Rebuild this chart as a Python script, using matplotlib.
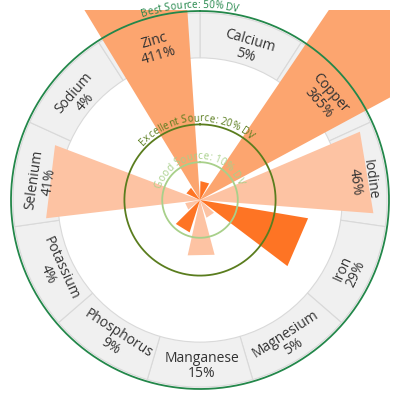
import numpy as np
import matplotlib
matplotlib.use("Agg")
import matplotlib.pyplot as plt
import matplotlib.transforms as mtransforms
from matplotlib.patches import Rectangle
from matplotlib.font_manager import FontProperties

plt.rcParams['font.family'] = ['Open Sans', 'DejaVu Sans']

# % daily value per nutrient
nutrients = ['Calcium', 'Copper', 'Iodine', 'Iron', 'Magnesium', 'Manganese',
             'Phosphorus', 'Potassium', 'Selenium', 'Sodium', 'Zinc']
dv = [5, 365, 46, 29, 5, 15, 9, 4, 41, 4, 411]
bar_colors = ['#fe7424', '#fca56f', '#fdc3a3', '#fe7424', '#fdc3a3', '#fdc3a3',
              '#fe7424', '#fdc3a3', '#fdc3a3', '#fe7424', '#fca56f']

# reference rings
ring_values = [10, 20, 50]
ring_labels = ['Good Source: 10% DV', 'Excellent Source: 20% DV', 'Best Source: 50% DV']
ring_colors = ['#a8d08a', '#5a7d1e', '#23874a']

fig = plt.figure(figsize=(4, 3.96), dpi=100)
ax = fig.add_axes([11 / 400, 7 / 396, 378 / 400, 378 / 396], projection='polar')
ax.set_theta_zero_location('N')
ax.set_theta_direction(-1)
ax.set_ylim(0, 50)
ax.axis('off')

n = len(nutrients)
step = 2 * np.pi / n
centers = (np.arange(n) + 0.5) * step

# grey label band
ax.bar(centers, 49.5 - 37.6, bottom=37.6, width=step, color='#f0f0f0',
       edgecolor='#d9d9d9', linewidth=0.8, zorder=1)

# bars as straight-ended wedges, clipped to the plot rectangle
clip = Rectangle((10 / 400, 6 / 396), 380 / 400, 380 / 396, transform=fig.transFigure)
half = np.radians(27.5) / 2
shift = np.radians(-1.2)
for c, v, col in zip(centers, dv, bar_colors):
    th = [c + shift, c + shift - half, c + shift + half]
    for p in ax.fill(th, [0, v, v], color=col, linewidth=0, zorder=2):
        p.set_clip_box(None)
        p.set_clip_path(clip)

# reference circles
circ = np.linspace(0, 2 * np.pi, 500)
for rv, col in zip(ring_values, ring_colors):
    ax.plot(circ, np.full_like(circ, rv), color=col, lw=1.3, zorder=3, clip_on=False)

# curved ring captions
renderer = fig.canvas.get_renderer()
px_per_unit = ax.bbox.width / 2 / 50


def curved_text(s, r, center_deg, size, color):
    fp = FontProperties(family=['Open Sans', 'DejaVu Sans'], size=size)
    base = renderer.get_text_width_height_descent('xx', fp, ismath=False)[0]
    widths = [renderer.get_text_width_height_descent('x' + ch + 'x', fp, ismath=False)[0] - base
              for ch in s]
    r_px = r * px_per_unit
    start = np.radians(center_deg) - sum(widths) / 2 / r_px
    pos = 0
    for ch, w in zip(s, widths):
        a = start + (pos + w / 2) / r_px
        pos += w
        ax.text(a, r, ch, rotation=-np.degrees(a), rotation_mode='anchor',
                ha='center', va='baseline', fontsize=size, color=color,
                zorder=4, clip_on=False)


for rv, lab, col in zip(ring_values, ring_labels, ring_colors):
    curved_text(lab, rv + 0.8, -3, 7.3, col)

# category labels in the band
off = mtransforms.offset_copy(ax.transData, fig=fig, x=2, y=-4, units='dots')
for c, name, v in zip(centers, nutrients, dv):
    deg = np.degrees(c)
    rot = -deg if (deg < 90 or deg > 270) else 180 - deg
    ax.text(c, 42.9, f"{name}\n{v}%", rotation=rot, rotation_mode='anchor',
            ha='center', va='center', fontsize=10, color='#333333',
            linespacing=1.0, transform=off, zorder=5)

fig.savefig('out.png', dpi=100)
